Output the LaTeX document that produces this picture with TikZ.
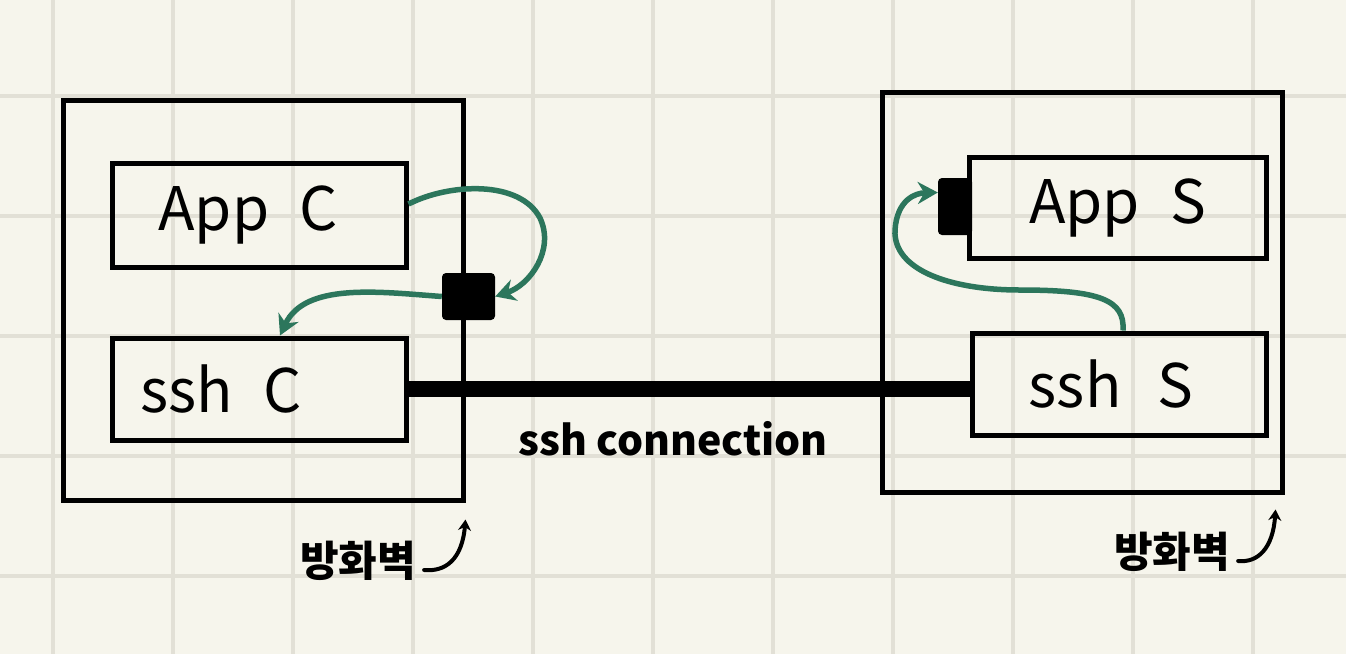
\documentclass[tikz,border=0pt]{standalone}
\usepackage{fontspec}
\setmainfont{Noto Sans CJK KR}
\usetikzlibrary{arrows.meta}
\definecolor{bg}{RGB}{246,245,236}
\definecolor{gridc}{RGB}{226,224,214}
\definecolor{flowgreen}{RGB}{44,118,92}
\begin{document}
\begin{tikzpicture}[x=1pt,y=-1pt,
  fw/.style={draw=black, line width=5pt, rectangle, inner sep=0pt, minimum width=400pt, minimum height=400pt},
  appbox/.style={draw=black, line width=5pt, rectangle, inner sep=0pt, font=\fontsize{60}{60}\selectfont},
  port/.style={fill=black, rectangle, rounded corners=4pt, inner sep=0pt},
  flow/.style={draw=flowgreen, line width=5.5pt, -{Stealth[length=20pt,width=22pt]}},
  hook/.style={draw=black, line width=4pt, line cap=round, -{Stealth[length=11pt,width=13pt]}},
  tunnel/.style={draw=black, line width=16pt},
  lbl/.style={inner sep=0pt, font=\fontsize{41}{41}\selectfont\bfseries},
  fwlbl/.style={inner sep=0pt, font=\fontsize{42}{42}\selectfont\bfseries}]
\fill[bg] (0,0) rectangle (1346,654);
\useasboundingbox (0,0) rectangle (1346,654);
\foreach \x in {53,173,...,1253} \draw[gridc, line width=4pt] (\x,0) -- (\x,654);
\foreach \y in {96,216,...,576} \draw[gridc, line width=4pt] (0,\y) -- (1346,\y);

% firewalls
\node[fw] (fwC) at (263,300) {};
\node[fw] (fwS) at (1082,292) {};

% application boxes
\node[appbox, minimum width=294pt, minimum height=104pt] (appC) at (259,215) {App\hspace{30pt}C\hspace*{22pt}};
\node[appbox, minimum width=294pt, minimum height=102pt] (sshC) at (259,389) {ssh\hspace{30pt}C\hspace*{76pt}};
\node[appbox, minimum width=297pt, minimum height=101pt] (appS) at (1117.5,207.5) {App\hspace{30pt}S};
\node[appbox, minimum width=294pt, minimum height=102pt] (sshS) at (1119,384) {ssh\hspace{36pt}S\hspace*{16pt}};

% ports
\node[port, minimum width=53pt, minimum height=47pt] (portC) at (468.5,296.5) {};
\node[port, minimum width=34pt, minimum height=57pt] (portS) at (955,206.5) {};

% ssh tunnel
\draw[tunnel] (sshC.east) -- (sshC.east -| sshS.west);
\node[lbl, anchor=base] (conn) at (673,455) {ssh connection};

% green flows
\draw[flow] ([yshift=11pt]appC.east) .. controls (450,183) and (520,180) .. (540,218)
  .. controls (555,250) and (530,285) .. (portC.east);
\draw[flow] (portC.west) .. controls (380,292) and (305,282) .. ([xshift=21pt]sshC.north);
\draw[flow] ([xshift=4pt]sshS.north) .. controls (1125,300) and (1100,290) .. (1020,290)
  .. controls (950,290) and (893,270) .. (895,230)
  .. controls (897,200) and (915,193) .. ([yshift=14pt]portS.west);

% firewall labels
\node[fwlbl] (lblC) at (358,561) {방화벽};
\node[fwlbl] (lblS) at (1172,552) {방화벽};
\coordinate (hC) at ([xshift=8pt]lblC.east |- 0,570);
\coordinate (hS) at ([xshift=8pt]lblS.east |- 0,561);
\draw[hook] (hC) .. controls (445,572) and (462,560) .. ([yshift=-17pt]fwC.south east);
\draw[hook] (hS) .. controls (1258,563) and (1273,548) .. ([xshift=-9pt,yshift=-15pt]fwS.south east);
\end{tikzpicture}
\end{document}
